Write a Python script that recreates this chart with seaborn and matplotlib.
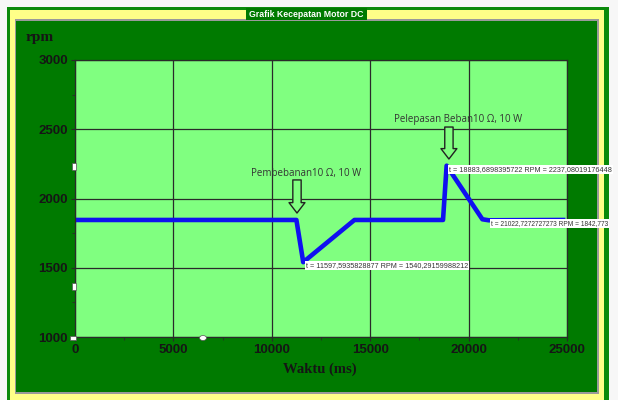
import matplotlib
matplotlib.use("Agg")
import matplotlib.pyplot as plt
from matplotlib.patches import Rectangle, Ellipse
from matplotlib.ticker import MultipleLocator
import seaborn as sns
import pandas as pd

# ---- data ----
time_ms = [0, 11250, 11597.5935828877, 14200, 18700, 18883.6898395722, 20700, 21022.7272727273, 24800]
rpm = [1845, 1845, 1540.29159988212, 1845, 1845, 2237.08019176448, 1850, 1842.773, 1845]

x_ticks = [0, 5000, 10000, 15000, 20000, 25000]
y_ticks = [1000, 1500, 2000, 2500, 3000]

events = ["Pembebanan10 Ω, 10 W", "Pelepasan Beban10 Ω, 10 W"]
event_t = [11280, 19000]
event_text_t = [11740, 19460]
event_text_rpm = [2180, 2570]
event_arrow_top = [2134, 2516]
event_arrow_bottom = [1895, 2285]

cursor_t = [18883.6898395722, 11597.5935828877, 21022.7272727273]
cursor_rpm = [2237.08019176448, 1540.29159988212, 1842.773]
cursor_labels = ["t = 18883,6898395722 RPM = 2237,08019176448",
                 "t = 11597,5935828877 RPM = 1540,29159988212",
                 "t = 21022,7272727273 RPM = 1842,773"]

df = pd.DataFrame({"t": time_ms, "rpm": rpm})

W, H = 618, 400
fig = plt.figure(figsize=(W / 100, H / 100), dpi=100)
fig.patch.set_facecolor("#f7f7f7")

def fx(x):
    return x / W

def fy(y):
    return 1 - y / H

def frect(x0, y0, x1, y1, color, z=-5, ec="none", lw=0):
    r = Rectangle((fx(x0), fy(y1)), fx(x1) - fx(x0), fy(y0) - fy(y1),
                  transform=fig.transFigure, facecolor=color, edgecolor=ec,
                  linewidth=lw, zorder=z)
    fig.patches.append(r)

# frame layers
frect(7, 7, 609, 410, "#0b8a0b", z=-9)
frect(10, 10, 604, 410, "#ffff88", z=-8)
frect(15, 19, 599, 394, "#9a9a9a", z=-7)
frect(16, 21, 597, 392, "#007a00", z=-6)
# title box
frect(246, 8, 367, 20, "#007a00", z=-4)
fig.text(fx(306.5), fy(14.5), "Grafik Kecepatan Motor DC", color="white",
         fontsize=6.3, fontweight="bold", ha="center", va="center",
         family=["Liberation Sans", "DejaVu Sans"])

ax = fig.add_axes([fx(75), fy(337), fx(567) - fx(75), fy(60) - fy(337)])
ax.set_facecolor("#80ff80")

sns.lineplot(data=df, x="t", y="rpm", ax=ax, color="#1010f0", linewidth=3.3,
             estimator=None, sort=False, legend=False)

ax.set_xlim(0, 25000)
ax.set_ylim(1000, 3000)
ax.set_xticks(x_ticks)
ax.set_yticks(y_ticks)
ax.xaxis.set_minor_locator(MultipleLocator(2500))
ax.yaxis.set_minor_locator(MultipleLocator(250))
ax.grid(True, which="major", color="#2a2a2a", linewidth=0.9)
ax.set_axisbelow(True)
for s in ax.spines.values():
    s.set_color("#2a2a2a")
    s.set_linewidth(0.9)
ax.tick_params(which="major", length=3, color="#2a2a2a", labelsize=9.5,
               labelcolor="#151515", pad=2)
ax.tick_params(which="minor", length=2, color="#2a2a2a")
for lab in ax.get_xticklabels() + ax.get_yticklabels():
    lab.set_fontweight("bold")
    lab.set_family(["Liberation Sans", "DejaVu Sans"])
ax.set_xlabel("")
ax.set_ylabel("")

fig.text(fx(26), fy(38), "rpm", fontsize=11, fontweight="bold", color="#151515",
         family=["Liberation Serif", "DejaVu Serif"], ha="left", va="center")
fig.text(fx(320), fy(369), "Waktu (ms)", fontsize=10.5, fontweight="bold",
         color="#151515", family=["Liberation Serif", "DejaVu Serif"],
         ha="center", va="center")

# event annotations with hollow arrows
for lab, t, tt, ty, a0, a1 in zip(events, event_t, event_text_t, event_text_rpm,
                                  event_arrow_top, event_arrow_bottom):
    ax.text(tt, ty, lab, fontsize=7.0, color="#333333", ha="center", va="center",
            family=["Open Sans", "DejaVu Sans"])
    ax.annotate("", xy=(t, a1), xytext=(t, a0),
                arrowprops=dict(arrowstyle="simple,head_length=0.75,head_width=1.15,tail_width=0.6",
                                fc="#80ff80", ec="#222222", lw=1.0,
                                shrinkA=0, shrinkB=0, mutation_scale=10))

# cursor value labels
label_sizes = [5.2, 5.2, 4.8]
for t, r, lab, fs in zip(cursor_t, cursor_rpm, cursor_labels, label_sizes):
    ax.annotate(lab, xy=(t, r), xytext=(2.5, -3.5), textcoords="offset pixels",
                fontsize=fs, color="#333333", ha="left", va="center",
                family=["Liberation Sans", "DejaVu Sans"],
                bbox=dict(boxstyle="square,pad=0.15", fc="white", ec="none"),
                annotation_clip=False, clip_on=False, zorder=6)

# small decorative handles
def fdot(x, y, w, h, shape="rect"):
    if shape == "rect":
        p = Rectangle((fx(x - w / 2), fy(y + h / 2)), w / W, h / H,
                      transform=fig.transFigure, facecolor="white",
                      edgecolor="#555555", linewidth=0.5, zorder=10)
    else:
        p = Ellipse((fx(x), fy(y)), w / W, h / H, transform=fig.transFigure,
                    facecolor="white", edgecolor="#555555", linewidth=0.5, zorder=10)
    fig.patches.append(p)

fdot(74, 166, 4, 7)
fdot(74, 286, 4, 7)
fdot(73, 338, 6, 4)
fdot(203, 338, 7, 5, shape="ellipse")

fig.savefig("out.png", dpi=100, facecolor=fig.get_facecolor())
